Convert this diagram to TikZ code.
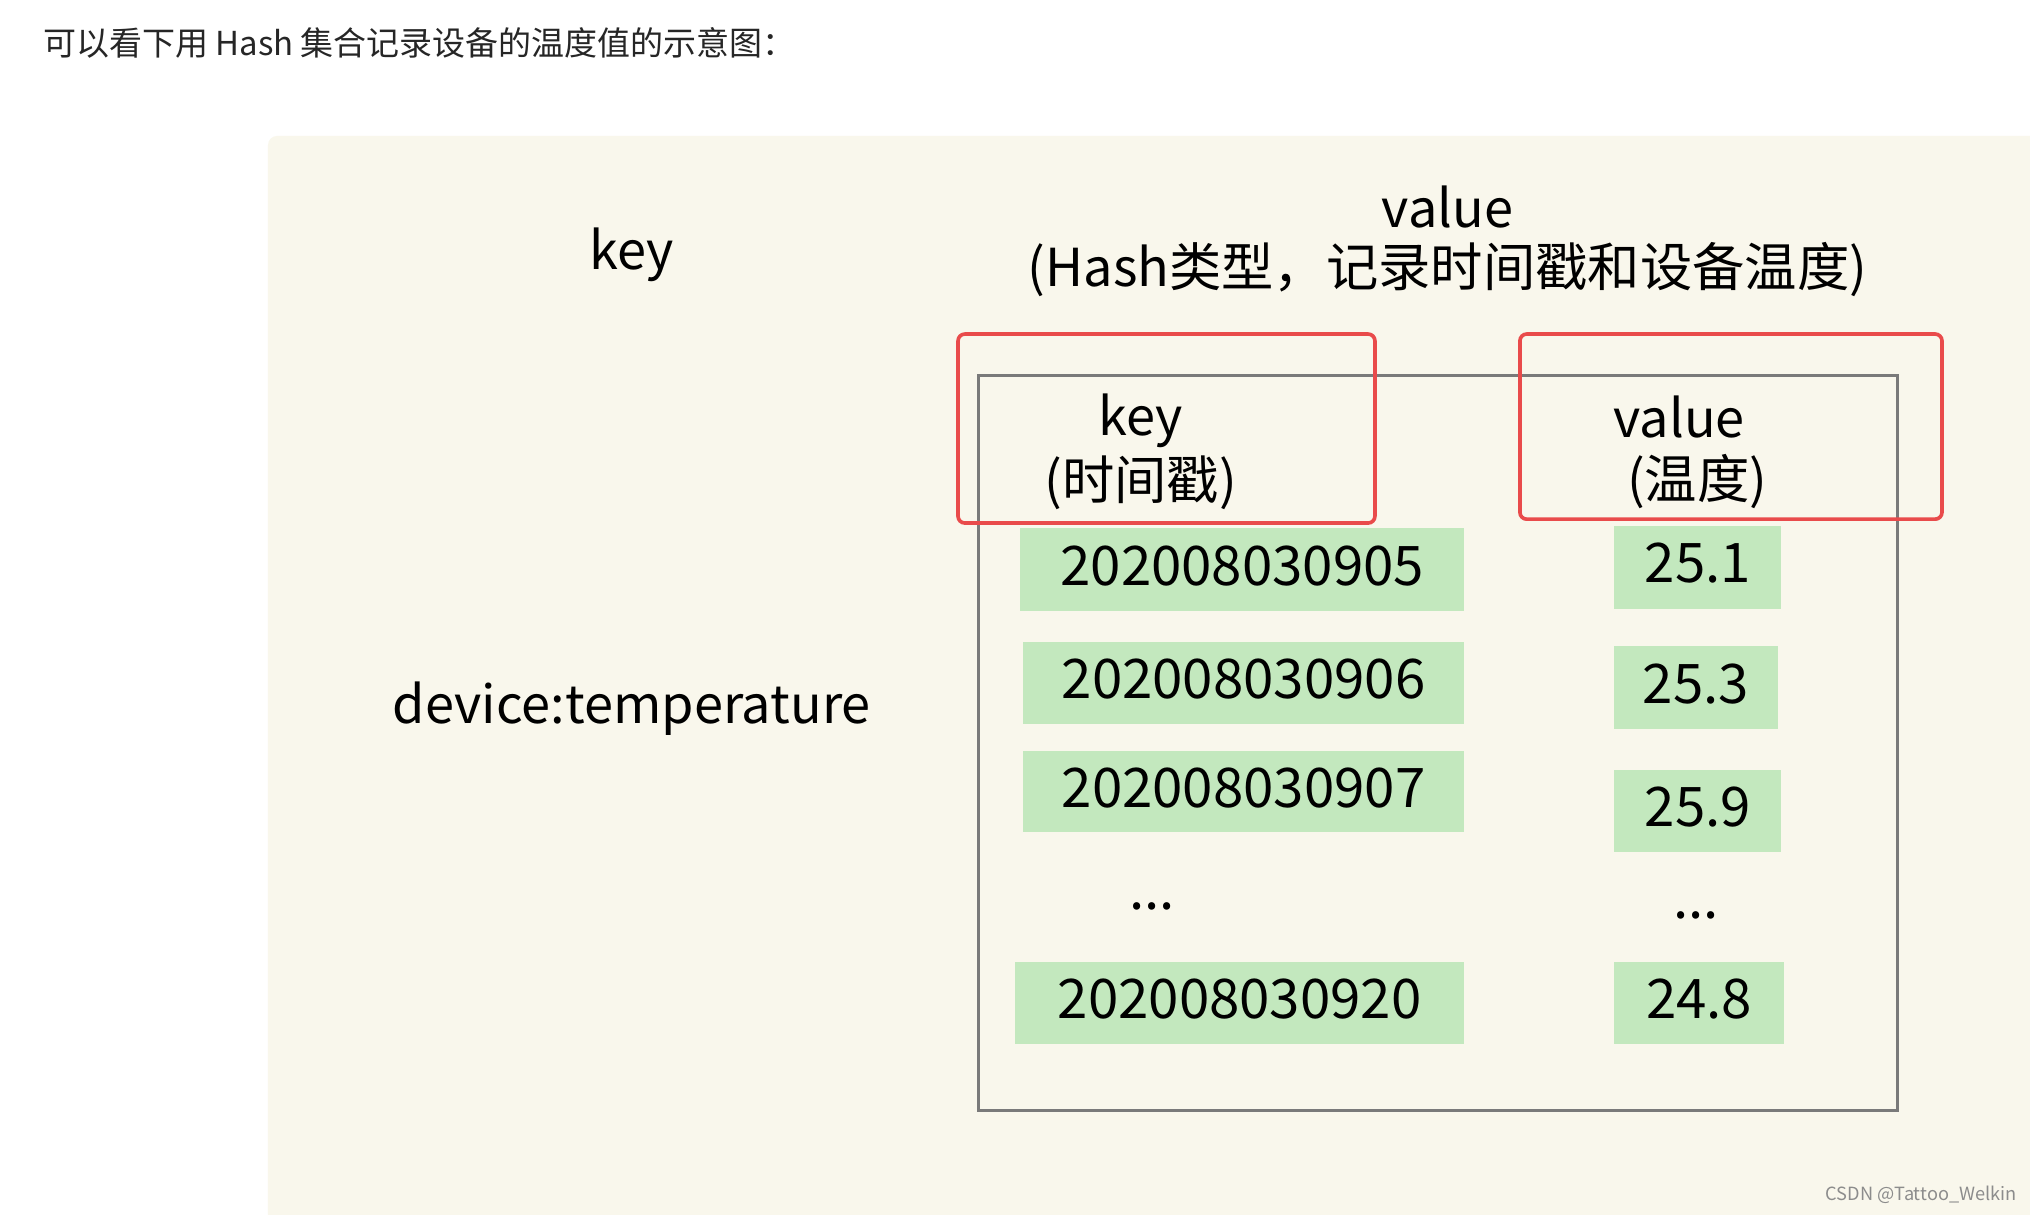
\documentclass[tikz,border=0pt]{standalone}
\usepackage{fontspec}
\setmainfont{Noto Sans CJK SC}
\definecolor{bgc}{HTML}{F9F7EC}
\definecolor{grn}{HTML}{C3E8BE}
\definecolor{redc}{HTML}{E94B4B}
\definecolor{gryc}{HTML}{7A7A7A}
\begin{document}
\begin{tikzpicture}[x=0.02cm,y=-0.02cm,
  big/.style={font=\fontsize{23}{28}\selectfont,inner sep=0pt,align=center},
  num/.style={font=\fontsize{24}{28}\selectfont,inner sep=0pt},
  gbox/.style={fill=grn,draw=none},
  rbox/.style={draw=redc,line width=1.6pt,rounded corners=3pt}]
\useasboundingbox (0,0) rectangle (1568,938);
\fill[white] (0,0) rectangle (1568,938);
\node[anchor=west,inner sep=0pt,text=black!85,font=\fontsize{14.5}{18}\selectfont] (title) at (33,33) {可以看下用 Hash 集合记录设备的温度值的示意图：};
\fill[bgc,rounded corners=4pt] (207,105) rectangle (1590,960);
\node[big] (k) at (488,197) {key};
\node[big] (v) at (1118,160) {value};
\node[big] (vd) at (1118,208) {(Hash类型，记录时间戳和设备温度)};
\node[big] (dt) at (488,547) {device:temperature};
\draw[gryc,line width=1.3pt] (756,290) rectangle (1466,858);
\draw[rbox] (740,258) rectangle (1062,404);
\draw[rbox] (1174,258) rectangle (1500,401);
\node[big] (hk) at (881,325) {key};
\node[big] (hk2) at (881,373) {(时间戳)};
\node[big] (hv) at (1297,322) {value};
\node[big] (hv2) at (1311,372) {(温度)};
\foreach \a/\b/\c/\d/\t [count=\i] in {788/408/1131/472/202008030905,790/496/1131/559/202008030906,790/580/1131/643/202008030907,784/743/1131/806/202008030920}{
  \fill[grn] (\a,\b) rectangle (\c,\d);
  \node[num] (ts\i) at ({(\a+\c)/2},{(\b+\d)/2-3}) {\t};
}
\foreach \a/\b/\c/\d/\t [count=\i] in {1247/406/1376/470/25.1,1247/499/1373/563/25.3,1247/595/1376/658/25.9,1247/743/1378/806/24.8}{
  \fill[grn] (\a,\b) rectangle (\c,\d);
  \node[num] (tv\i) at ({(\a+\c)/2},{(\b+\d)/2-3}) {\t};
}
\node[num] (d1) at (890,700) {...};
\node[num] (d2) at (1310,707) {...};
\node[anchor=east,inner sep=0pt,text=black!45,font=\fontsize{8}{10}\selectfont] (wm) at (1558,923) {CSDN @Tattoo\_Welkin};
\end{tikzpicture}
\end{document}
